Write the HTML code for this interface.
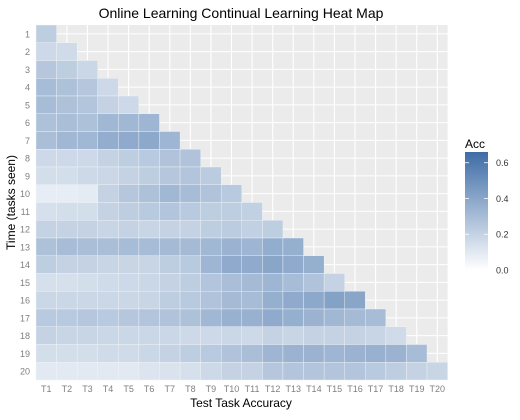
<!DOCTYPE html>
<html><head><meta charset="utf-8"><style>
body{margin:0;background:#fff;font-family:"Liberation Sans",sans-serif}
svg text{font-family:"Liberation Sans",sans-serif}
</style></head><body>
<svg id="c" width="520" height="415">
<defs><linearGradient id="lg" x1="0" y1="1" x2="0" y2="0">
<stop offset="0" stop-color="#ffffff"/><stop offset="1" stop-color="#3d6ca6"/></linearGradient></defs>
</svg>
<script>
const tasks=["T1","T2","T3","T4","T5","T6","T7","T8","T9","T10","T11","T12","T13","T14","T15","T16","T17","T18","T19","T20"];
const times=["1","2","3","4","5","6","7","8","9","10","11","12","13","14","15","16","17","18","19","20"];
const acc=[
[0.22],
[0.17,0.16],
[0.25,0.22,0.18],
[0.30,0.28,0.25,0.17],
[0.30,0.28,0.26,0.20,0.17],
[0.28,0.29,0.28,0.32,0.32,0.33],
[0.29,0.32,0.32,0.37,0.38,0.39,0.33],
[0.17,0.17,0.17,0.20,0.22,0.24,0.27,0.27],
[0.15,0.15,0.17,0.18,0.20,0.22,0.25,0.26,0.23],
[0.08,0.08,0.09,0.20,0.25,0.28,0.32,0.30,0.27,0.24],
[0.14,0.15,0.15,0.20,0.22,0.24,0.26,0.24,0.22,0.22,0.21],
[0.20,0.20,0.20,0.19,0.20,0.19,0.20,0.20,0.22,0.23,0.21,0.22],
[0.28,0.30,0.29,0.29,0.30,0.30,0.31,0.31,0.32,0.34,0.33,0.37,0.36],
[0.22,0.20,0.20,0.19,0.19,0.19,0.22,0.24,0.33,0.38,0.38,0.40,0.38,0.36],
[0.14,0.14,0.15,0.16,0.17,0.18,0.20,0.22,0.26,0.29,0.31,0.33,0.30,0.27,0.20],
[0.18,0.18,0.18,0.18,0.18,0.19,0.22,0.24,0.27,0.31,0.30,0.36,0.38,0.39,0.42,0.40],
[0.24,0.24,0.25,0.24,0.25,0.26,0.27,0.28,0.32,0.35,0.35,0.38,0.36,0.34,0.32,0.31,0.30],
[0.20,0.19,0.19,0.18,0.18,0.18,0.18,0.17,0.17,0.18,0.17,0.20,0.19,0.20,0.20,0.20,0.19,0.16],
[0.15,0.15,0.15,0.16,0.16,0.18,0.20,0.22,0.24,0.27,0.29,0.33,0.34,0.34,0.33,0.34,0.35,0.34,0.30],
[0.10,0.10,0.10,0.10,0.10,0.12,0.13,0.14,0.17,0.20,0.20,0.25,0.26,0.26,0.26,0.26,0.24,0.22,0.20,0.19]];
const legendTicks=[0,0.2,0.4,0.6];
const vmax=0.66;
const L=36,R=447.6,T=25,B=380;
const cw=(R-L)/tasks.length, rh=(B-T)/times.length;
const xs=i=>L+i*cw, ys=j=>T+j*rh;
function col(v){const f=Math.max(0,Math.min(1,v/vmax));
 const lo=[255,255,255],hi=[61,108,166];
 return `rgb(${lo.map((a,k)=>Math.round(a+(hi[k]-a)*f)).join(",")})`;}
const svg=document.getElementById('c');const NS="http://www.w3.org/2000/svg";
function mk(t,a,p){const e=document.createElementNS(NS,t);for(const k in a)e.setAttribute(k,a[k]);(p||svg).appendChild(e);return e;}
let e=mk('rect',{x:L,y:T,width:R-L,height:B-T,fill:'#ebebeb'});


for(let i=0;i<tasks.length;i++){e=mk('line',{x1:xs(i+0.5),x2:xs(i+0.5),y1:T,y2:B,stroke:'#fff','stroke-width':1.1});

}
for(let j=0;j<times.length;j++){e=mk('line',{x1:L,x2:R,y1:ys(j+0.5),y2:ys(j+0.5),stroke:'#fff','stroke-width':1.1});

}
acc.forEach((row,j)=>row.forEach((v,i)=>{
 e=mk('rect',{x:xs(i),y:ys(j),width:cw,height:rh,fill:col(v),stroke:'#f2f4f8','stroke-width':0.4});
 
 
}));
times.forEach((t,j)=>{e=mk('text',{x:30,y:ys(j+0.5)+3.5,'font-size':9,fill:'#7f7f7f','text-anchor':'end'});e.textContent=t;

});
tasks.forEach((t,i)=>{e=mk('text',{x:xs(i+0.5),y:392,'font-size':9,fill:'#7f7f7f','text-anchor':'middle'});e.textContent=t;

});
e=mk('text',{x:241,y:407,'font-size':12,fill:'#000','text-anchor':'middle'});e.textContent='Test Task Accuracy';


e=mk('text',{x:0,y:0,'font-size':12,fill:'#000','text-anchor':'middle',transform:`translate(15,${(T+B)/2}) rotate(-90)`});e.textContent='Time (tasks seen)';


e=mk('text',{x:241,y:18,'font-size':14,fill:'#000','text-anchor':'middle'});e.textContent='Online Learning Continual Learning Heat Map';


const lt=152,lb=270,lx=465,lw=23;
const ly=v=>lb-(v/vmax)*(lb-lt);
e=mk('text',{x:465,y:148,'font-size':12,fill:'#000'});e.textContent='Acc';


e=mk('rect',{x:lx,y:lt,width:lw,height:lb-lt,fill:'url(#lg)'});


legendTicks.forEach(v=>{
 e=mk('line',{x1:lx,x2:lx+4,y1:ly(v),y2:ly(v),stroke:'#fff','stroke-width':0.8});
 
 
 e=mk('line',{x1:lx+lw-4,x2:lx+lw,y1:ly(v),y2:ly(v),stroke:'#fff','stroke-width':0.8});
 
 
 e=mk('text',{x:496,y:ly(v)+3.5,'font-size':9,fill:'#333'});e.textContent=v.toFixed(1);
 
 
});
</script>
</body></html>
